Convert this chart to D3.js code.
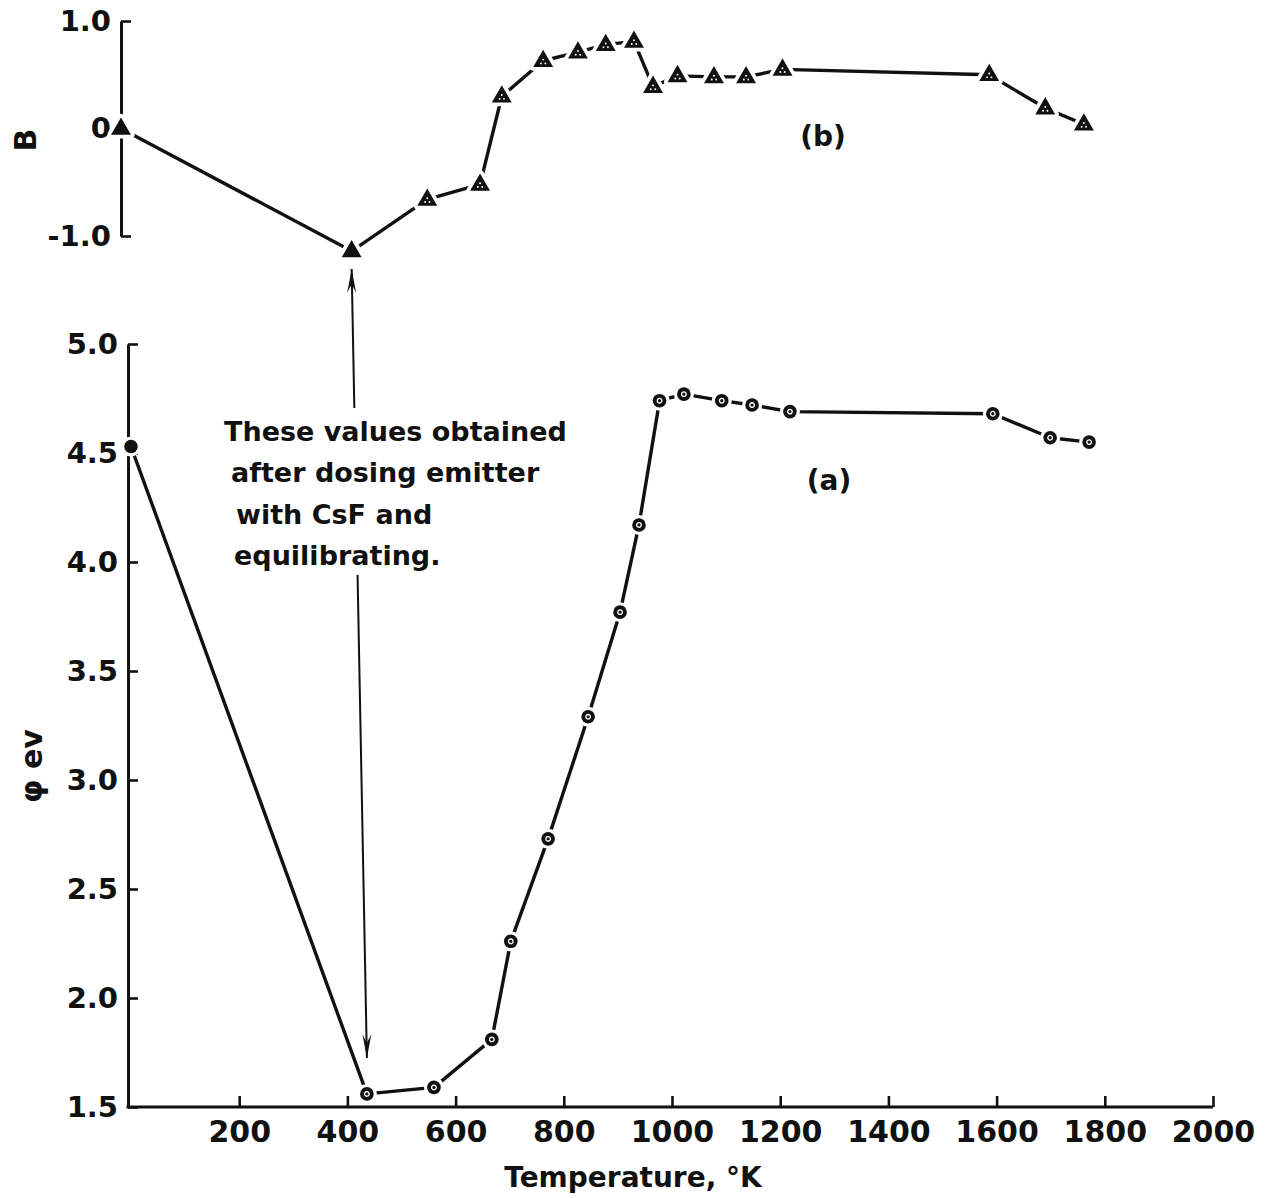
<!DOCTYPE html>
<html>
<head>
<meta charset="utf-8">
<script src="https://cdn.jsdelivr.net/npm/d3@7"></script>
<style>
  body { margin: 0; background: #fff; }
  text { font-family: "DejaVu Sans", sans-serif; font-weight: bold; fill: #111; }
</style>
</head>
<body>
<svg id="chart" width="1277" height="1198"></svg>
<script>
// ---- data ----
// (a) work function phi (eV) vs temperature (K)
const tempA = [0, 436, 560, 667, 702, 771, 845, 904, 939, 977, 1022, 1092, 1148, 1218, 1593, 1699, 1771];
const phiA  = [4.53, 1.56, 1.59, 1.81, 2.26, 2.73, 3.29, 3.77, 4.17, 4.74, 4.77, 4.74, 4.72, 4.69, 4.68, 4.57, 4.55];
// (b) B vs temperature (K)
const tempB = [0, 424, 563, 660, 700, 776, 840, 891, 943, 978, 1023, 1090, 1149, 1216, 1596, 1699, 1770];
const valB  = [0, -1.14, -0.66, -0.52, 0.30, 0.63, 0.71, 0.78, 0.81, 0.39, 0.49, 0.48, 0.48, 0.55, 0.50, 0.19, 0.04];
// marker kind: true = solid
const solidA = [true, false, false, false, false, false, false, false, false, false, false, false, false, false, false, false, false];
const solidB = [true, true, false, false, false, false, false, false, false, false, false, false, false, false, false, false, false];

const xTicks   = [200, 400, 600, 800, 1000, 1200, 1400, 1600, 1800, 2000];
const phiTicks = [1.5, 2.0, 2.5, 3.0, 3.5, 4.0, 4.5, 5.0];
const bTicks   = [-1.0, 0, 1.0];
const annotationLines = ["These values obtained", "after dosing emitter", "with CsF and", "equilibrating."];
const labelA = "(a)", labelB = "(b)";
const xTitle = "Temperature, °K", yTitleA = "φ ev", yTitleB = "B";

// ---- layout ----
const svg = d3.select("#chart");
const INK = "#111";

const x    = d3.scaleLinear().domain([0, 2000]).range([131, 1213]);   // lower panel
const xTop = d3.scaleLinear().domain([0, 2000]).range([121, 1209]);   // upper panel (slightly skewed in original)
const yA   = d3.scaleLinear().domain([1.5, 5.0]).range([1107, 344]);
const yB   = d3.scaleLinear().domain([-1.0, 1.0]).range([236, 21]);
const axisXA = 128, axisXB = 121;

const dataA = tempA.map((t, i) => ({t, v: phiA[i], solid: solidA[i]}));
const dataB = tempB.map((t, i) => ({t, v: valB[i], solid: solidB[i]}));

// ---- axes ----
const fmt = d => d === 0 ? "0" : (d < 0 ? "-" : "") + Math.abs(d).toFixed(1);

const gYA = svg.append("g").attr("transform", `translate(${axisXA},0)`)
  .call(d3.axisLeft(yA).tickValues(phiTicks).tickFormat(d => d.toFixed(1))
        .tickSizeInner(-10).tickSizeOuter(0).tickPadding(10));
const gYB = svg.append("g").attr("transform", `translate(${axisXB},0)`)
  .call(d3.axisLeft(yB).tickValues(bTicks).tickFormat(fmt)
        .tickSizeInner(-10).tickSizeOuter(0).tickPadding(10));
const gX = svg.append("g").attr("transform", `translate(0,${yA(1.5)})`)
  .call(d3.axisBottom(x).tickValues(xTicks).tickFormat(d3.format("d"))
        .tickSizeInner(-11).tickSizeOuter(0).tickPadding(14));
gX.select(".domain").remove();
gX.insert("line", ":first-child").attr("x1", axisXA - 1.5).attr("x2", x(2000))
  .attr("y1", 0).attr("y2", 0).attr("stroke", INK).attr("stroke-width", 3);

[gYA, gYB, gX].forEach(g => {
  g.selectAll(".domain").attr("stroke", INK).attr("stroke-width", 3);
  g.selectAll(".tick line").attr("stroke", INK).attr("stroke-width", 2.6);
  g.selectAll(".tick text").attr("fill", INK).style("font-size", "29px")
    .style("font-family", '"DejaVu Sans", sans-serif').style("font-weight", "bold");
});
gX.selectAll(".tick text").style("font-size", "30px");

// ---- annotation arrow (from B minimum to phi minimum) ----
const topTip = [xTop(tempB[1]), yB(valB[1]) + 18];
const botTip = [x(tempA[1]), yA(phiA[1]) - 36];
svg.append("line").attr("x1", topTip[0]).attr("y1", topTip[1])
  .attr("x2", botTip[0]).attr("y2", botTip[1]).attr("stroke", INK).attr("stroke-width", 2);
function arrowHead(tip, dir) { // dir: -1 up, +1 down
  const L = 24, N = 15, W = 4.5;
  const [tx, ty] = tip;
  return `M${tx},${ty} L${tx - W},${ty - dir * L} L${tx},${ty - dir * N} L${tx + W},${ty - dir * L} Z`;
}
svg.append("path").attr("d", arrowHead(topTip, -1)).attr("fill", INK);
svg.append("path").attr("d", arrowHead(botTip, 1)).attr("fill", INK);

// annotation text with white backing (breaks the arrow line)
const annG = svg.append("g");
const annBg = annG.append("rect").attr("fill", "#fff");
const annX = [224, 231, 236, 234];
annG.selectAll("text.ann").data(annotationLines).join("text")
  .attr("class", "ann")
  .attr("x", (d, i) => annX[i]).attr("y", (d, i) => 441 + i * 41.3)
  .style("font-size", "27px").text(d => d);
const bb = annG.node().getBBox();
annBg.attr("x", bb.x - 6).attr("y", bb.y - 8).attr("width", bb.width + 12).attr("height", bb.height + 12);

// ---- series ----
const lineA = d3.line().x(d => x(d.t)).y(d => yA(d.v));
const lineB = d3.line().x(d => xTop(d.t)).y(d => yB(d.v));

svg.append("path").datum(dataA).attr("d", lineA)
  .attr("fill", "none").attr("stroke", INK).attr("stroke-width", 3.4).attr("stroke-linejoin", "round");
svg.append("path").datum(dataB).attr("d", lineB)
  .attr("fill", "none").attr("stroke", INK).attr("stroke-width", 3.4).attr("stroke-linejoin", "round");

// halos (gaps between lines and markers)
svg.append("g").selectAll("circle").data(dataA).join("circle")
  .attr("cx", d => x(d.t)).attr("cy", d => yA(d.v)).attr("r", 10).attr("fill", "#fff");
const triPath = s => `M0,${-10.5 * s} L${9.5 * s},${6 * s} L${-9.5 * s},${6 * s} Z`;
svg.append("g").selectAll("path").data(dataB).join("path")
  .attr("transform", d => `translate(${xTop(d.t)},${yB(d.v)})`)
  .attr("d", triPath(1)).attr("fill", "#fff").attr("stroke", "#fff").attr("stroke-width", 8)
  .attr("stroke-linejoin", "round");

// markers (a): circled dots
const mA = svg.append("g").selectAll("g").data(dataA).join("g")
  .attr("transform", d => `translate(${x(d.t)},${yA(d.v)})`);
mA.append("circle").attr("r", 6.8).attr("fill", INK);
mA.filter(d => !d.solid).append("circle").attr("r", 2.3).attr("fill", "none")
  .attr("stroke", "#fff").attr("stroke-width", 1.3);

// markers (b): triangles
const mB = svg.append("g").selectAll("g").data(dataB).join("g")
  .attr("transform", d => `translate(${xTop(d.t)},${yB(d.v)})`);
mB.append("path").attr("d", triPath(1.05)).attr("fill", INK);
mB.filter(d => !d.solid).selectAll("circle").data([[-2.2, 2.6], [2.2, 2.6], [0, -1.2]]).join("circle")
  .attr("cx", p => p[0]).attr("cy", p => p[1]).attr("r", 0.95).attr("fill", "#fff");

// ---- labels ----
svg.append("text").attr("x", 823).attr("y", yB(-0.16)).attr("text-anchor", "middle")
  .style("font-size", "28px").text(labelB);
svg.append("text").attr("x", 829).attr("y", yA(4.33)).attr("text-anchor", "middle")
  .style("font-size", "28px").text(labelA);

svg.append("text").attr("x", 633).attr("y", 1187).attr("text-anchor", "middle")
  .style("font-size", "28px").text(xTitle);
svg.append("text").attr("transform", `translate(42,766) rotate(-90)`).attr("text-anchor", "middle")
  .style("font-size", "30px").text(yTitleA);
svg.append("text").attr("transform", `translate(36,140) rotate(-90)`).attr("text-anchor", "middle")
  .style("font-size", "30px").text(yTitleB);
</script>
</body>
</html>
